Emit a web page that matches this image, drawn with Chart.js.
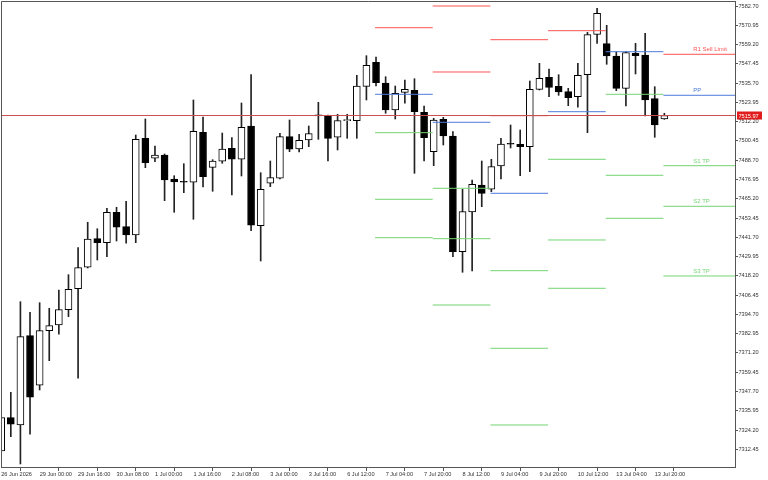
<!DOCTYPE html>
<html>
<head>
<meta charset="utf-8">
<script src="https://cdn.jsdelivr.net/npm/chart.js@4.4.1/dist/chart.umd.min.js"></script>
<style>
  html, body { margin: 0; padding: 0; background: #fff; }
</style>
</head>
<body>
<canvas id="myChart" width="768" height="480"></canvas>
<script>
// H4 candles, 26 Jun 2026 - 14 Jul 2026 (3 Jul 20:00 missing, holiday)
const barTimes = [
  "26 Jun 2026", "26 Jun 12:00", "26 Jun 16:00", "26 Jun 20:00",
  "29 Jun 00:00", "29 Jun 04:00", "29 Jun 08:00", "29 Jun 12:00", "29 Jun 16:00", "29 Jun 20:00",
  "30 Jun 00:00", "30 Jun 04:00", "30 Jun 08:00", "30 Jun 12:00", "30 Jun 16:00", "30 Jun 20:00",
  "1 Jul 00:00", "1 Jul 04:00", "1 Jul 08:00", "1 Jul 12:00", "1 Jul 16:00", "1 Jul 20:00",
  "2 Jul 00:00", "2 Jul 04:00", "2 Jul 08:00", "2 Jul 12:00", "2 Jul 16:00", "2 Jul 20:00",
  "3 Jul 00:00", "3 Jul 04:00", "3 Jul 08:00", "3 Jul 12:00", "3 Jul 16:00",
  "6 Jul 00:00", "6 Jul 04:00", "6 Jul 08:00", "6 Jul 12:00", "6 Jul 16:00", "6 Jul 20:00",
  "7 Jul 00:00", "7 Jul 04:00", "7 Jul 08:00", "7 Jul 12:00", "7 Jul 16:00", "7 Jul 20:00",
  "8 Jul 00:00", "8 Jul 04:00", "8 Jul 08:00", "8 Jul 12:00", "8 Jul 16:00", "8 Jul 20:00",
  "9 Jul 00:00", "9 Jul 04:00", "9 Jul 08:00", "9 Jul 12:00", "9 Jul 16:00", "9 Jul 20:00",
  "10 Jul 00:00", "10 Jul 04:00", "10 Jul 08:00", "10 Jul 12:00", "10 Jul 16:00", "10 Jul 20:00",
  "13 Jul 00:00", "13 Jul 04:00", "13 Jul 08:00", "13 Jul 12:00", "13 Jul 16:00", "13 Jul 20:00",
  "14 Jul 00:00"
];

const opens = [
  7311.43, 7331.73, 7327.28, 7381.72, 7351.48, 7384.77, 7388.24, 7397.57, 7410.37, 7423.41,
  7440.85, 7438.41, 7456.94, 7448.16, 7443.10, 7502.05, 7489.86, 7491.87, 7477.24, 7475.30,
  7475.23, 7505.71, 7484.37, 7488.03, 7495.96, 7489.25, 7509.55, 7448.77, 7474.62, 7477.67,
  7503.03, 7495.53, 7501.02, 7515.70, 7515.83, 7502.66, 7512.78, 7512.78, 7533.75, 7548.38,
  7535.76, 7519.30, 7530.09, 7531.31, 7517.90, 7493.88, 7513.63, 7503.45, 7432.92, 7457.12,
  7473.58, 7470.96, 7485.17, 7498.58, 7498.39, 7496.93, 7531.92, 7539.24, 7533.75, 7530.46,
  7527.41, 7540.82, 7565.45, 7559.72, 7552.22, 7532.53, 7553.87, 7552.83, 7526.19, 7513.80
];
const highs = [
  7332.77, 7347.21, 7402.44, 7395.98, 7401.83, 7398.42, 7409.58, 7418.90, 7435.36, 7450.85,
  7446.94, 7459.38, 7459.99, 7463.65, 7504.06, 7513.82, 7497.36, 7492.48, 7479.25, 7486.57,
  7525.40, 7515.04, 7489.01, 7505.28, 7502.42, 7523.57, 7540.82, 7481.08, 7488.21, 7505.10,
  7513.21, 7504.49, 7509.55, 7524.00, 7516.26, 7516.68, 7516.68, 7540.46, 7552.41, 7551.61,
  7539.60, 7533.93, 7537.59, 7538.38, 7521.74, 7514.24, 7514.85, 7506.08, 7470.96, 7476.63,
  7488.21, 7489.25, 7502.05, 7510.16, 7507.11, 7536.98, 7547.77, 7544.30, 7540.82, 7532.53,
  7547.77, 7566.67, 7581.30, 7570.94, 7554.84, 7554.84, 7559.96, 7566.06, 7533.51, 7517.30
];
const lows = [
  7310.21, 7320.15, 7303.51, 7321.61, 7348.62, 7366.48, 7382.57, 7393.30, 7355.75, 7422.99,
  7427.86, 7429.88, 7439.45, 7438.04, 7438.41, 7484.13, 7487.79, 7464.01, 7456.94, 7468.89,
  7452.67, 7472.36, 7469.74, 7486.81, 7467.49, 7479.07, 7445.73, 7427.25, 7472.55, 7477.24,
  7493.88, 7493.70, 7496.93, 7501.44, 7488.21, 7494.92, 7502.05, 7502.05, 7525.40, 7533.93,
  7517.29, 7513.82, 7523.39, 7480.72, 7488.21, 7485.35, 7497.97, 7429.88, 7420.37, 7421.16,
  7460.36, 7469.50, 7477.24, 7496.14, 7479.25, 7481.69, 7531.50, 7527.41, 7528.26, 7521.93,
  7520.95, 7505.47, 7559.96, 7547.16, 7531.07, 7521.74, 7541.25, 7515.65, 7502.66, 7513.60
];
const closes = [
  7331.73, 7327.71, 7381.11, 7344.17, 7384.77, 7387.81, 7397.57, 7410.00, 7423.17, 7440.67,
  7438.41, 7456.94, 7447.80, 7443.10, 7501.44, 7487.18, 7491.87, 7476.63, 7475.41, 7475.23,
  7506.32, 7478.64, 7488.21, 7495.53, 7489.25, 7508.76, 7449.02, 7470.96, 7478.03, 7503.03,
  7495.35, 7500.83, 7504.86, 7515.83, 7502.05, 7512.78, 7513.03, 7533.93, 7546.55, 7535.95,
  7519.30, 7529.48, 7531.92, 7518.27, 7502.42, 7513.21, 7503.45, 7432.92, 7457.31, 7474.01,
  7468.52, 7484.74, 7498.58, 7498.40, 7496.93, 7531.92, 7538.63, 7533.14, 7530.28, 7526.80,
  7540.46, 7565.21, 7578.25, 7552.22, 7532.53, 7554.23, 7552.41, 7525.40, 7510.16, 7515.97
];

// daily pivot levels: 7 Jul, 8 Jul, 9 Jul, 10 Jul, 13 Jul, 14 Jul
const dayStartBars = [39, 45, 51, 57, 63, 69];
const r2Levels = [null, 7582.70, 7562.16, null, null, null];
const r1Levels = [7569.47, 7542.47, 7515.83, 7567.65, null, 7553.26];
const ppLevels = [7528.87, 7511.81, 7468.52, 7518.27, 7554.84, 7528.27];
const s1Levels = [7505.47, 7471.57, 7421.34, 7489.25, 7528.87, 7485.35];
const s2Levels = [7464.87, 7440.85, 7374.04, 7440.06, 7479.50, 7460.60];
const s3Levels = [7441.46, 7400.43, 7327.28, 7410.61, 7453.28, 7418.11];
const levelNames = ["R1 Sell Limit", "PP", "S1 TP", "S2 TP", "S3 TP"];

const bidPrice = 7515.97;
const xTickBars = [0, 4, 8, 12, 16, 20, 24, 28, 32, 36, 40, 44, 48, 52, 56, 60, 64, 68];
const yTicks = [
  7312.45, 7324.20, 7335.95, 7347.70, 7359.45, 7371.20, 7382.95, 7394.70, 7406.45, 7418.20,
  7429.95, 7441.70, 7453.45, 7465.20, 7476.95, 7488.70, 7500.45, 7512.20, 7523.95, 7535.70,
  7547.45, 7559.20, 7570.95, 7582.70
];

const X_MIN = -0.02, X_MAX = 76.35;
const RED = "#ff5252", BLUE = "#4f7bdc", GREEN = "#72d472";
const FONT = "Liberation Sans";

function segments(levels) {
  const pts = [];
  levels.forEach((v, d) => {
    if (v === null) return;
    const x0 = dayStartBars[d] - 0.1;
    const x1 = d + 1 < dayStartBars.length ? dayStartBars[d + 1] - 0.1 : X_MAX;
    pts.push({ x: x0, y: v }, { x: x1, y: v }, { x: x1, y: null });
  });
  return pts;
}

function pivotLine(levels, color) {
  return {
    type: "line",
    data: segments(levels),
    borderColor: color,
    borderWidth: 1,
    pointRadius: 0,
    spanGaps: false,
    clip: 0,
    order: 0,
  };
}

const isUp = (i) => closes[i] >= opens[i];

// labels, bid line, price tag and the top/left frame
const overlay = {
  id: "overlay",
  afterDatasetsDraw(chart) {
    const { ctx, chartArea: a, scales: { x, y } } = chart;
    ctx.save();
    const by = Math.round(y.getPixelForValue(bidPrice)) + 0.5;
    ctx.strokeStyle = "#c85050";
    ctx.lineWidth = 1;
    ctx.beginPath();
    ctx.moveTo(a.left, by);
    ctx.lineTo(a.right, by);
    ctx.stroke();

    const last = dayStartBars.length - 1;
    const lastLevels = [r1Levels[last], ppLevels[last], s1Levels[last], s2Levels[last], s3Levels[last]];
    const colors = [RED, BLUE, GREEN, GREEN, GREEN];
    ctx.font = "6px '" + FONT + "'";
    ctx.textAlign = "left";
    ctx.textBaseline = "bottom";
    const lx = x.getPixelForValue(72);
    lastLevels.forEach((v, k) => {
      ctx.fillStyle = colors[k];
      ctx.fillText(levelNames[k], lx, y.getPixelForValue(v) - 1.5);
    });

    ctx.font = "5.6px '" + FONT + "'";
    ctx.fillStyle = "#e01c1c";
    ctx.fillRect(a.right + 2, by - 4, 25, 8);
    ctx.fillStyle = "#fff";
    ctx.textBaseline = "middle";
    ctx.fillText(bidPrice.toFixed(2), a.right + 3.5, by + 0.5);

    ctx.strokeStyle = "#555";
    ctx.beginPath();
    ctx.moveTo(a.left + 0.5, a.bottom);
    ctx.lineTo(a.left + 0.5, a.top + 0.5);
    ctx.lineTo(a.right, a.top + 0.5);
    ctx.stroke();
    ctx.restore();
  },
};

new Chart(document.getElementById("myChart"), {
  type: "bar",
  data: {
    datasets: [
      pivotLine(r2Levels, RED),
      pivotLine(r1Levels, RED),
      pivotLine(ppLevels, BLUE),
      pivotLine(s1Levels, GREEN),
      pivotLine(s2Levels, GREEN),
      pivotLine(s3Levels, GREEN),
      {
        label: "body",
        data: opens.map((o, i) => ({ x: i, y: [o, closes[i]] })),
        backgroundColor: (c) => (isUp(c.dataIndex) ? "#ffffff" : "#000000"),
        borderColor: "#000",
        borderWidth: 1,
        borderSkipped: false,
        barThickness: 7,
        minBarLength: 1,
        grouped: false,
        clip: 0,
        order: 1,
      },
      {
        label: "wick",
        data: lows.map((l, i) => ({ x: i, y: [l, highs[i]] })),
        backgroundColor: "#222",
        borderWidth: 0,
        barThickness: 1,
        grouped: false,
        clip: 0,
        order: 2,
      },
    ],
  },
  options: {
    responsive: false,
    animation: false,
    layout: { padding: { top: 1, left: 1, right: 0, bottom: 0 } },
    plugins: { legend: { display: false }, tooltip: { enabled: false } },
    scales: {
      x: {
        type: "linear",
        min: X_MIN,
        max: X_MAX,
        offset: false,
        afterBuildTicks: (s) => { s.ticks = xTickBars.map((v) => ({ value: v })); },
        afterFit: (s) => { s.height = 13; s.paddingLeft = 0; s.paddingRight = 0; },
        grid: { display: true, drawOnChartArea: false, drawTicks: true, tickLength: 4, color: "#555" },
        border: { display: true, color: "#555" },
        ticks: {
          autoSkip: false,
          maxRotation: 0,
          align: "start",
          padding: 0,
          color: "#333",
          font: { family: FONT, size: 5.6 },
          callback: (v) => barTimes[v],
        },
      },
      y: {
        type: "linear",
        position: "right",
        min: 7301.66,
        max: 7585.75,
        afterBuildTicks: (s) => { s.ticks = yTicks.map((v) => ({ value: v })); },
        afterFit: (s) => { s.width = 33; s.paddingTop = 0; s.paddingBottom = 0; },
        grid: { display: true, drawOnChartArea: false, drawTicks: true, tickLength: 3, color: "#555" },
        border: { display: true, color: "#555" },
        ticks: {
          autoSkip: false,
          padding: 0.5,
          color: "#333",
          font: { family: FONT, size: 5.6 },
          callback: (v) => v.toFixed(2),
        },
      },
    },
  },
  plugins: [overlay],
});
</script>
</body>
</html>
